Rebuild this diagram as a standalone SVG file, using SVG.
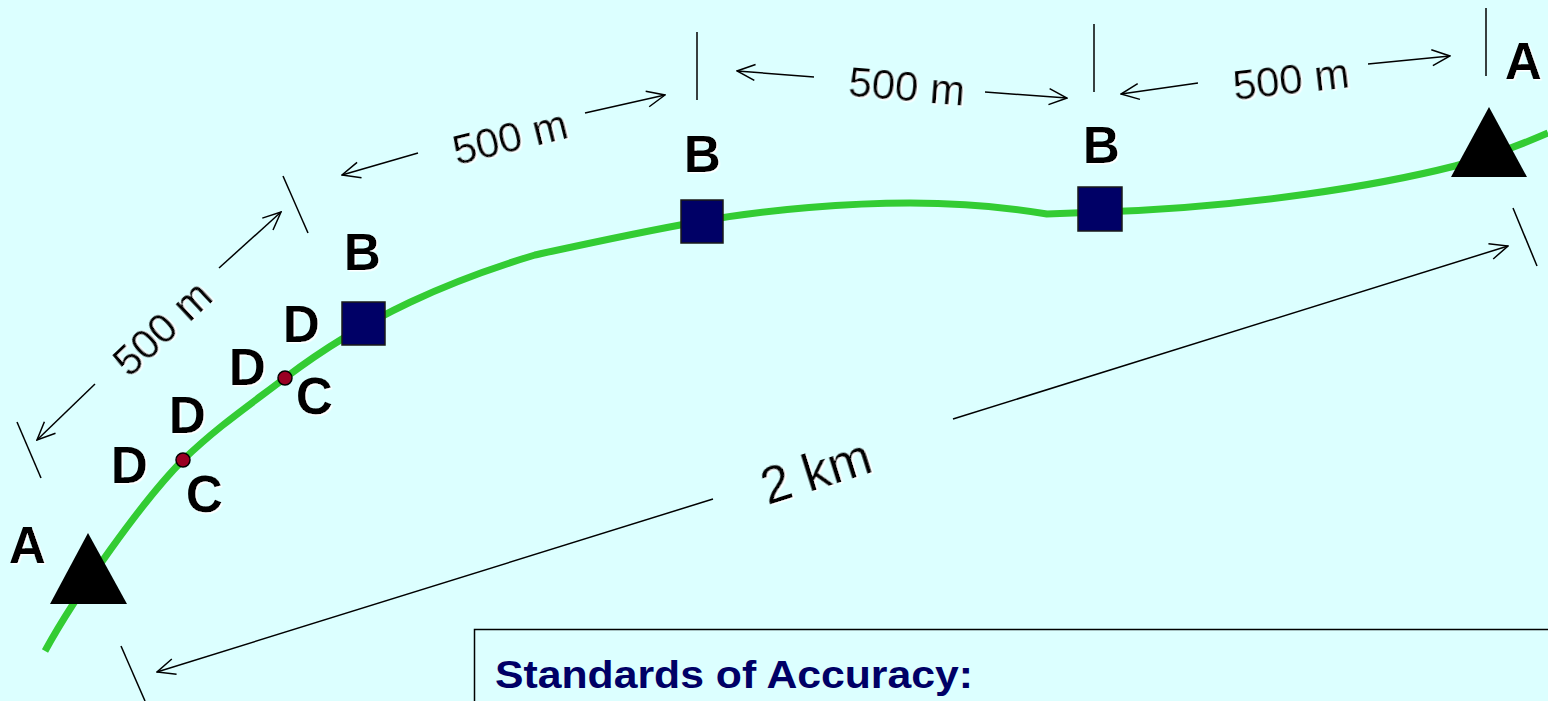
<svg xmlns="http://www.w3.org/2000/svg" width="1548" height="701" viewBox="0 0 1548 701">
<defs>
<marker id="arr" viewBox="0 0 20 18" refX="19" refY="9" markerWidth="20" markerHeight="18" markerUnits="userSpaceOnUse" orient="auto">
<path d="M1,1 L19,9 L1,17" fill="none" stroke="#000" stroke-width="1.5"/>
</marker>
<filter id="sh" x="-10%" y="-10%" width="130%" height="130%">
<feDropShadow dx="1.5" dy="1.5" stdDeviation="0.3" flood-color="#ffffff" flood-opacity="1"/>
</filter>
</defs>
<style>
.lbl{font-family:"Liberation Sans",Arial,sans-serif;font-weight:bold;font-size:51px;fill:#000;filter:url(#sh)}
.dim{font-family:"Liberation Sans",Arial,sans-serif;font-size:42px;fill:#000;filter:url(#sh)}
.km{font-family:"Liberation Sans",Arial,sans-serif;font-size:52px;fill:#000;filter:url(#sh)}
.ln{stroke:#000;stroke-width:1.5;fill:none}
.ar{stroke:#000;stroke-width:1.5;fill:none;marker-end:url(#arr)}
.sq{fill:#000066;stroke:#1a1a1a;stroke-width:1.5}
.pt{fill:#990022;stroke:#000;stroke-width:1.5}
</style>
<rect x="0" y="0" width="1548" height="701" fill="#DCFFFF"/>

<g id="road">
<path d="M45,651 C75,596 143,500 183,460 C217,427 251,404 285,378 C368,315 452,280 535,255 C590,243 640,232 702,221 C770,209 850,203 910,203 C960,203 1000,206 1047,214 L1100,212 C1250,207 1380,185 1455,166 C1490,157 1520,145 1548,133" fill="none" stroke="#33CC33" stroke-width="7"/>
</g>

<g id="connectors">
<line class="ln" x1="17" y1="422" x2="41" y2="478"/>
<line class="ln" x1="283" y1="176" x2="308" y2="233"/>
<line class="ln" x1="697" y1="32" x2="697" y2="100"/>
<line class="ln" x1="1094" y1="24" x2="1094" y2="92"/>
<line class="ln" x1="1486" y1="8" x2="1486" y2="76"/>
<line class="ln" x1="1513" y1="208" x2="1537" y2="266"/>
<line class="ln" x1="121" y1="646" x2="145" y2="701"/>
<line class="ar" x1="95" y1="384" x2="37" y2="440"/>
<line class="ar" x1="219" y1="268" x2="281" y2="212"/>
<line class="ar" x1="418" y1="153" x2="342" y2="175"/>
<line class="ar" x1="585" y1="113" x2="665" y2="95"/>
<line class="ar" x1="814" y1="77" x2="737" y2="71"/>
<line class="ar" x1="985" y1="92" x2="1067" y2="98"/>
<line class="ar" x1="1198" y1="83" x2="1121" y2="94"/>
<line class="ar" x1="1368" y1="64" x2="1450" y2="56"/>
<line class="ar" x1="953" y1="419" x2="1508" y2="246"/>
<line class="ar" x1="713" y1="499" x2="157" y2="672"/>
</g>

<g id="dim-labels">
<text class="dim" transform="translate(162,328) rotate(-43)" text-anchor="middle" y="15">500 m</text>
<text class="dim" transform="translate(510,137) rotate(-14)" text-anchor="middle" y="15">500 m</text>
<text class="dim" transform="translate(907,86) rotate(4.7)" text-anchor="middle" y="15">500 m</text>
<text class="dim" transform="translate(1291,79) rotate(-6.6)" text-anchor="middle" y="15">500 m</text>
<text class="km" transform="translate(816,471) rotate(-17.5)" text-anchor="middle" y="18">2 km</text>
</g>

<g id="station-A1">
<polygon points="88,533 50,604 127,604" fill="#000"/>
<text class="lbl" x="9" y="563">A</text>
</g>
<g id="station-A2">
<polygon points="1489,107 1451,177 1527,177" fill="#000"/>
<text class="lbl" x="1505" y="79">A</text>
</g>
<g id="station-B1">
<rect class="sq" x="342" y="302" width="43" height="43"/>
<text class="lbl" x="344" y="270">B</text>
</g>
<g id="station-B2">
<rect class="sq" x="681" y="200" width="42" height="43"/>
<text class="lbl" x="684" y="172">B</text>
</g>
<g id="station-B3">
<rect class="sq" x="1078" y="187" width="44" height="44"/>
<text class="lbl" x="1083" y="163">B</text>
</g>
<g id="station-C1">
<circle class="pt" cx="285" cy="378" r="7"/>
<text class="lbl" x="296" y="414">C</text>
</g>
<g id="station-C2">
<circle class="pt" cx="183" cy="460" r="7"/>
<text class="lbl" x="186" y="512">C</text>
</g>
<g id="label-D1"><text class="lbl" x="283" y="342">D</text></g>
<g id="label-D2"><text class="lbl" x="229" y="385">D</text></g>
<g id="label-D3"><text class="lbl" x="169" y="433">D</text></g>
<g id="label-D4"><text class="lbl" x="111" y="483">D</text></g>

<g id="standards-box">
<rect x="474.5" y="629.5" width="1100" height="100" fill="none" stroke="#000" stroke-width="1.5"/>
<text x="495" y="688" font-family="Liberation Sans, Arial, sans-serif" font-weight="bold" font-size="39" fill="#000066" textLength="478" lengthAdjust="spacingAndGlyphs">Standards of Accuracy:</text>
</g>
</svg>
